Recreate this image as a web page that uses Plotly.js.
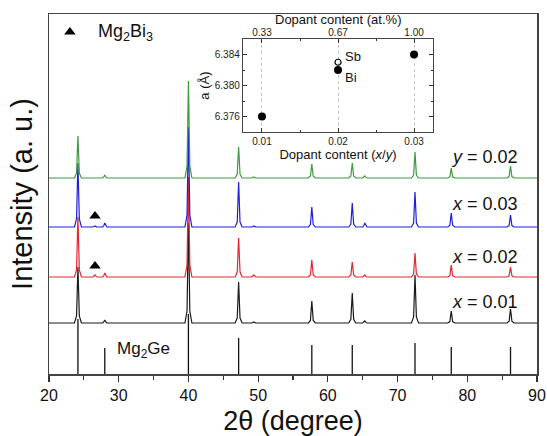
<!DOCTYPE html>
<html>
<head>
<meta charset="utf-8">
<script src="https://cdn.plot.ly/plotly-3.0.1.min.js"></script>
<style>
html,body{margin:0;padding:0;background:#fff;}
#chart{width:547px;height:436px;}
</style>
</head>
<body>
<div id="chart"></div>
<script>
// 2θ sampling positions (degrees), grouped per peak
const twoTheta = [20,
  23.65,23.95,24.15,24.35,24.65,
  26.3,26.45,26.6,26.75,26.9,
  27.7,27.85,28.0,28.15,28.3,
  39.5,39.8,40.0,40.2,40.5,
  46.7,47.0,47.2,47.4,47.7,
  49.1,49.25,49.4,49.55,49.7,
  57.2,57.5,57.7,57.9,58.2,
  63.0,63.3,63.5,63.7,64.0,
  65.0,65.15,65.3,65.45,65.6,
  72.0,72.3,72.5,72.7,73.0,
  77.2,77.5,77.7,77.9,78.2,
  85.7,86.0,86.2,86.4,86.7,
  90];

// intensities (a.u.) per sample
const intensityX001 = [0,
  0,7,56,7,0,
  0,0,0,0,0,
  0,1,3,1,0,
  0,12,100,12,0,
  0,5,41,5,0,
  0,0.3,1,0.3,0,
  0,2.6,22,2.6,0,
  0,3.6,30,3.6,0,
  0,0.6,2,0.6,0,
  0,6,48,6,0,
  0,1.4,12,1.4,0,
  0,1.7,14,1.7,0,
  0];
const intensityX002 = [0,
  0,7,60,7,0,
  0,0.6,2,0.6,0,
  0,1.2,4,1.2,0,
  0,12,100,12,0,
  0,5,39,5,0,
  0,0.6,2,0.6,0,
  0,2,17,2,0,
  0,2,15,2,0,
  0,0.6,2,0.6,0,
  0,3,24,3,0,
  0,1.4,12,1.4,0,
  0,1.2,10,1.2,0,
  0];
const intensityX003 = [0,
  0,8,64,8,0,
  0,0.3,1,0.3,0,
  0,1.2,4,1.2,0,
  0,12,100,12,0,
  0,5,45,5,0,
  0,0.3,1,0.3,0,
  0,2.4,20,2.4,0,
  0,3,24,3,0,
  0,1.2,4,1.2,0,
  0,4,35,4,0,
  0,1.7,14,1.7,0,
  0,1.4,12,1.4,0,
  0];
const intensityY002 = [0,
  0,5,42,5,0,
  0,0,0,0,0,
  0,1,3,1,0,
  0,12,97,12,0,
  0,4,31,4,0,
  0,0.3,1,0.3,0,
  0,2,14,2,0,
  0,2,15,2,0,
  0,0.6,2,0.6,0,
  0,3,26,3,0,
  0,1.2,10,1.2,0,
  0,1.4,12,1.4,0,
  0];

// Mg2Ge reference pattern
const refPos = [24.15, 28.0, 40.0, 47.2, 57.7, 63.5, 72.5, 77.7, 86.2];
const refHeight = [55, 26, 60, 36, 29, 29, 31, 27, 27];

// Mg2Bi3 marker position (2θ)
const bi3Peak = [26.6, 26.6];

// inset: lattice parameter vs dopant content
const dopantXY = [0.01, 0.02, 0.03];
const dopantAtPct = ['0.33', '0.67', '1.00'];
const latticeFilled = [6.376, 6.382, 6.384];
const sbDopant = [0.02];
const latticeSb = [6.383];

const seriesNames = ['<i>x</i> = 0.01', '<i>x</i> = 0.02', '<i>x</i> = 0.03', '<i>y</i> = 0.02'];
const seriesData = [intensityX001, intensityX002, intensityX003, intensityY002];
const seriesColors = ['#1a1a1a', '#e4262f', '#1f1fd8', '#3f9a3f'];
const stackOffset = [51, 97, 147, 196]; // vertical stacking of patterns
const labelOffset = [21, 20, 23, 21];

const traces = [];
// reference sticks
const sx = [], sy = [];
refPos.forEach((p, i) => { sx.push(p, p, null); sy.push(0, refHeight[i], null); });
traces.push({x: sx, y: sy, type: 'scatter', mode: 'lines', line: {color: '#111', width: 1.3}, hoverinfo: 'skip', xaxis: 'x', yaxis: 'y'});

seriesData.forEach((d, k) => {
  traces.push({
    x: twoTheta, y: d.map(v => v + stackOffset[k]), type: 'scatter', mode: 'lines',
    name: seriesNames[k], line: {color: seriesColors[k], width: 1.2}, xaxis: 'x', yaxis: 'y'
  });
});

// Mg2Bi3 triangles on x=0.02 and x=0.03 patterns
traces.push({x: bi3Peak, y: [stackOffset[1] + 11, stackOffset[2] + 11], type: 'scatter', mode: 'markers',
  marker: {symbol: 'triangle-up', size: 10, color: '#000'}, hoverinfo: 'skip', xaxis: 'x', yaxis: 'y'});
// legend triangle
traces.push({x: [23.0], y: [342], type: 'scatter', mode: 'markers',
  marker: {symbol: 'triangle-up', size: 10, color: '#000'}, hoverinfo: 'skip', xaxis: 'x', yaxis: 'y'});

// inset traces
traces.push({x: dopantXY, y: latticeFilled, type: 'scatter', mode: 'markers',
  marker: {symbol: 'circle', size: 8, color: '#000'}, xaxis: 'x2', yaxis: 'y2'});
traces.push({x: sbDopant, y: latticeSb, type: 'scatter', mode: 'markers',
  marker: {symbol: 'circle-open', size: 6, color: '#000', line: {width: 1.2}}, xaxis: 'x2', yaxis: 'y2'});
traces.push({x: dopantXY, y: latticeFilled, type: 'scatter', mode: 'markers',
  marker: {size: 1, opacity: 0}, hoverinfo: 'skip', xaxis: 'x3', yaxis: 'y2'});

const FONT = 'Arial, "Liberation Sans", sans-serif';
const annotations = [
  {x: 26.75, y: 342, xref: 'x', yref: 'y', text: 'Mg<sub>2</sub>Bi<sub>3</sub>', showarrow: false, xanchor: 'left', yanchor: 'middle', font: {size: 18, color: '#111'}},
  {x: 29.4, y: 24, xref: 'x', yref: 'y', text: 'Mg<sub>2</sub>Ge', showarrow: false, xanchor: 'left', yanchor: 'middle', font: {size: 17, color: '#111'}},
  {x: 0.0206, y: 6.3837, xref: 'x2', yref: 'y2', text: 'Sb', showarrow: false, xanchor: 'left', yanchor: 'middle', font: {size: 13, color: '#111'}},
  {x: 0.0206, y: 6.3810, xref: 'x2', yref: 'y2', text: 'Bi', showarrow: false, xanchor: 'left', yanchor: 'middle', font: {size: 13, color: '#111'}},
  // top-axis title of the inset
  {x: 0.02, y: 0.986, xref: 'x2', yref: 'paper', text: 'Dopant content (at.%)', showarrow: false, xanchor: 'center', yanchor: 'middle', font: {size: 13, color: '#111'}}
];
seriesNames.forEach((n, k) => {
  annotations.push({x: 87.6, y: stackOffset[k] + labelOffset[k], xref: 'x', yref: 'y', text: n, showarrow: false,
    xanchor: 'right', yanchor: 'middle', font: {size: 18, color: '#111'}});
});

const layout = {
  width: 547, height: 436,
  margin: {l: 49, r: 10, t: 14, b: 62, pad: 0},
  paper_bgcolor: '#fff', plot_bgcolor: '#fff',
  showlegend: false,
  font: {family: FONT, color: '#111'},
  xaxis: {
    domain: [0, 1], range: [20, 90], anchor: 'y',
    tickmode: 'linear', tick0: 20, dtick: 10,
    ticks: 'outside', ticklen: 6, tickwidth: 1.2, tickcolor: '#333',
    minor: {ticks: 'outside', ticklen: 4, tickwidth: 1.2, tickcolor: '#333', dtick: 5, tick0: 20, showgrid: false},
    showline: true, linecolor: '#444', linewidth: 1.5, mirror: true,
    showgrid: false, zeroline: false,
    tickfont: {size: 16, color: '#111'},
    title: {text: '2θ (degree)', font: {size: 27, color: '#111'}, standoff: 14}
  },
  yaxis: {
    domain: [0, 1], range: [0, 360], anchor: 'x',
    showticklabels: false, ticks: '',
    showline: true, linecolor: '#444', linewidth: 1.5, mirror: true,
    showgrid: false, zeroline: false,
    title: {text: 'Intensity (a. u.)', font: {size: 29, color: '#111'}, standoff: 6}
  },
  xaxis2: {
    domain: [0.3975, 0.787], range: [0.0075, 0.0325], anchor: 'y2',
    tickmode: 'array', tickvals: dopantXY, ticktext: ['0.01', '0.02', '0.03'],
    ticks: 'inside', ticklen: 4, tickwidth: 1, tickcolor: '#333',
    minor: {ticks: 'inside', ticklen: 2.5, tickwidth: 1, tickcolor: '#333', dtick: 0.005, tick0: 0, showgrid: false},
    showline: true, linecolor: '#444', linewidth: 1.2, mirror: true,
    showgrid: true, gridcolor: '#c4c4c4', griddash: 'dot', gridwidth: 1,
    zeroline: false,
    tickfont: {size: 10, color: '#222'},
    title: {text: 'Dopant content (<i>x</i>/<i>y</i>)', font: {size: 13, color: '#111'}, standoff: 0}
  },
  xaxis3: {
    overlaying: 'x2', side: 'top', anchor: 'y2', range: [0.0075, 0.0325],
    tickmode: 'array', tickvals: dopantXY, ticktext: dopantAtPct,
    ticks: 'inside', ticklen: 4, tickwidth: 1, tickcolor: '#333',
    minor: {ticks: 'inside', ticklen: 2.5, tickwidth: 1, tickcolor: '#333', dtick: 0.005, tick0: 0, showgrid: false},
    showline: false, showgrid: false, zeroline: false,
    tickfont: {size: 10, color: '#222'}
  },
  yaxis2: {
    domain: [0.672, 0.9306], range: [6.374, 6.386], anchor: 'x2',
    tickmode: 'array', tickvals: [6.376, 6.380, 6.384], ticktext: ['6.376', '6.380', '6.384'],
    ticks: 'inside', ticklen: 4, tickwidth: 1, tickcolor: '#333',
    minor: {ticks: 'inside', ticklen: 2.5, tickwidth: 1, tickcolor: '#333', dtick: 0.002, tick0: 6.374, showgrid: false},
    showline: true, linecolor: '#444', linewidth: 1.2, mirror: 'ticks',
    showgrid: false, zeroline: false,
    tickfont: {size: 10, color: '#222'},
    title: {text: 'a (Å)', font: {size: 13, color: '#111'}, standoff: 2}
  },
  annotations: annotations
};

Plotly.newPlot('chart', traces, layout, {staticPlot: true, displayModeBar: false});
</script>
</body>
</html>
